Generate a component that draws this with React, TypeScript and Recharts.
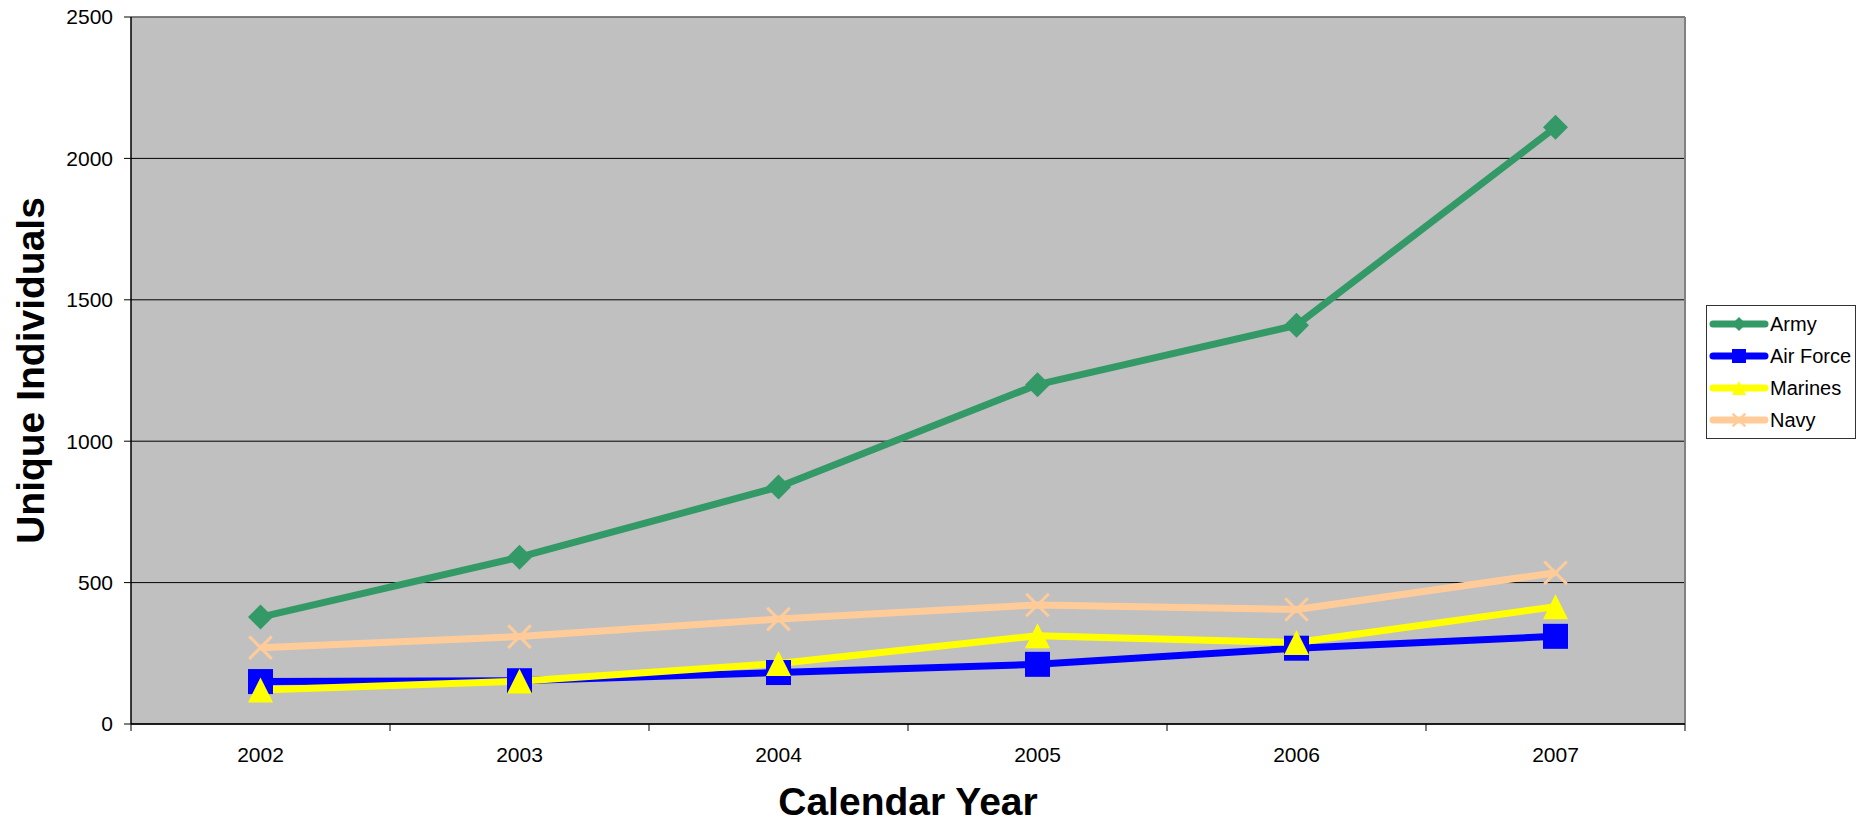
import React from "react";
import {
  LineChart,
  Line,
  XAxis,
  YAxis,
  CartesianGrid,
  Legend,
  Label,
  ReferenceLine,
} from "recharts";

// values
const years = ["2002", "2003", "2004", "2005", "2006", "2007"];
const army = [378, 590, 838, 1200, 1410, 2110];
const airForce = [150, 153, 182, 211, 268, 310];
const marines = [120, 151, 214, 312, 288, 415];
const navy = [270, 309, 371, 421, 405, 535];

const yTicks = [0, 500, 1000, 1500, 2000, 2500];

const FONT = '"Liberation Sans", Arial, Helvetica, sans-serif';

// x positions: each year sits in the middle of its slot, ticks on slot edges
const data = years.map((year, i) => ({
  pos: i + 0.5,
  year,
  army: army[i],
  airForce: airForce[i],
  marines: marines[i],
  navy: navy[i],
}));

const edgeTicks = years.map((_, i) => i).concat(years.length);
const centerTicks = years.map((_, i) => i + 0.5);

type Shape = "diamond" | "square" | "triangle" | "x";

const series: { key: string; name: string; color: string; shape: Shape }[] = [
  { key: "army", name: "Army", color: "#339966", shape: "diamond" },
  { key: "airForce", name: "Air Force", color: "#0000FF", shape: "square" },
  { key: "marines", name: "Marines", color: "#FFFF00", shape: "triangle" },
  { key: "navy", name: "Navy", color: "#FFCC99", shape: "x" },
];

function Marker({ shape, cx, cy, r, color }: { shape: Shape; cx: number; cy: number; r: number; color: string }) {
  if (shape === "diamond") {
    return (
      <polygon
        points={`${cx},${cy - r} ${cx + r},${cy} ${cx},${cy + r} ${cx - r},${cy}`}
        fill={color}
      />
    );
  }
  if (shape === "square") {
    return <rect x={cx - r} y={cy - r} width={r * 2} height={r * 2} fill={color} />;
  }
  if (shape === "triangle") {
    return (
      <polygon
        points={`${cx},${cy - r} ${cx + r},${cy + r} ${cx - r},${cy + r}`}
        fill={color}
      />
    );
  }
  const d = r * 0.9;
  return (
    <g stroke={color} strokeWidth={r > 9 ? 3 : 2.5}>
      <line x1={cx - d} y1={cy - d} x2={cx + d} y2={cy + d} />
      <line x1={cx - d} y1={cy + d} x2={cx + d} y2={cy - d} />
    </g>
  );
}

function renderLegend() {
  return (
    <div
      style={{
        border: "1px solid #333",
        background: "#fff",
        padding: "2px 0",
        width: 150,
        boxSizing: "border-box",
        fontFamily: FONT,
        fontSize: 20,
        color: "#000",
      }}
    >
      {series.map((s) => (
        <div key={s.key} style={{ display: "flex", alignItems: "center", height: 32 }}>
          <svg width={63} height={32} style={{ flex: "none" }}>
            <line x1={6} y1={16} x2={58} y2={16} stroke={s.color} strokeWidth={7} strokeLinecap="round" />
            <Marker shape={s.shape} cx={32} cy={16} r={7} color={s.color} />
          </svg>
          <span style={{ whiteSpace: "nowrap" }}>{s.name}</span>
        </div>
      ))}
    </div>
  );
}

export default function App() {
  return (
    <div style={{ position: "absolute", left: 0, top: 0, background: "#fff" }}>
      <LineChart
        width={1872}
        height={827}
        data={data}
        margin={{ top: 17, right: 187, bottom: 0, left: 0 }}
      >
        <CartesianGrid vertical={false} stroke="#000" fill="#C0C0C0" />
        <XAxis
          xAxisId="grid"
          dataKey="pos"
          type="number"
          domain={[0, years.length]}
          ticks={edgeTicks}
          tickFormatter={() => ""}
          tickSize={7}
          height={8}
          stroke="#000"
          axisLine={{ stroke: "#000", strokeWidth: 1.5 }}
          tickLine={{ stroke: "#000" }}
        />
        <XAxis
          xAxisId="labels"
          dataKey="pos"
          type="number"
          domain={[0, years.length]}
          ticks={centerTicks}
          tickFormatter={(v: number) => years[Math.round(v - 0.5)]}
          axisLine={false}
          tickLine={false}
          tickSize={0}
          tickMargin={15}
          height={95}
          tick={{ fill: "#000", fontSize: 21, fontFamily: FONT }}
        >
          <Label
            content={(props: any) => {
              const vb = props.viewBox;
              return (
                <text
                  x={vb.x + vb.width / 2}
                  y={vb.y + 83}
                  textAnchor="middle"
                  fontFamily={FONT}
                  fontWeight="bold"
                  fontSize={39}
                  fill="#000"
                >
                  Calendar Year
                </text>
              );
            }}
          />
        </XAxis>
        <YAxis
          type="number"
          domain={[0, 2500]}
          ticks={yTicks}
          width={131}
          tickSize={7}
          tickMargin={11}
          axisLine={{ stroke: "#000", strokeWidth: 1.5 }}
          tickLine={{ stroke: "#000" }}
          tick={{ fill: "#000", fontSize: 21, fontFamily: FONT }}
        >
          <Label
            content={(props: any) => {
              const vb = props.viewBox;
              const x = vb.x + 30;
              const y = vb.y + vb.height / 2;
              return (
                <text
                  x={x}
                  y={y}
                  transform={`rotate(-90, ${x}, ${y})`}
                  textAnchor="middle"
                  dominantBaseline="central"
                  fontFamily={FONT}
                  fontWeight="bold"
                  fontSize={39}
                  fill="#000"
                >
                  Unique Individuals
                </text>
              );
            }}
          />
        </YAxis>
        <ReferenceLine xAxisId="grid" x={years.length} stroke="#808080" strokeWidth={2} />
        <ReferenceLine xAxisId="grid" y={2500} stroke="#808080" strokeWidth={1.5} />
        {series.map((s) => (
          <Line
            key={s.key}
            xAxisId="grid"
            type="linear"
            dataKey={s.key}
            name={s.name}
            stroke={s.color}
            strokeWidth={7}
            strokeLinejoin="round"
            isAnimationActive={false}
            activeDot={false}
            dot={(p: any) => (
              <Marker
                key={`${s.key}-${p.index}`}
                shape={s.shape}
                cx={p.cx}
                cy={p.cy}
                r={12.5}
                color={s.color}
              />
            )}
          />
        ))}
        <Legend
          layout="vertical"
          align="center"
          verticalAlign="middle"
          content={renderLegend}
          wrapperStyle={{ left: 1706, top: 305, width: 150 }}
        />
      </LineChart>
    </div>
  );
}
